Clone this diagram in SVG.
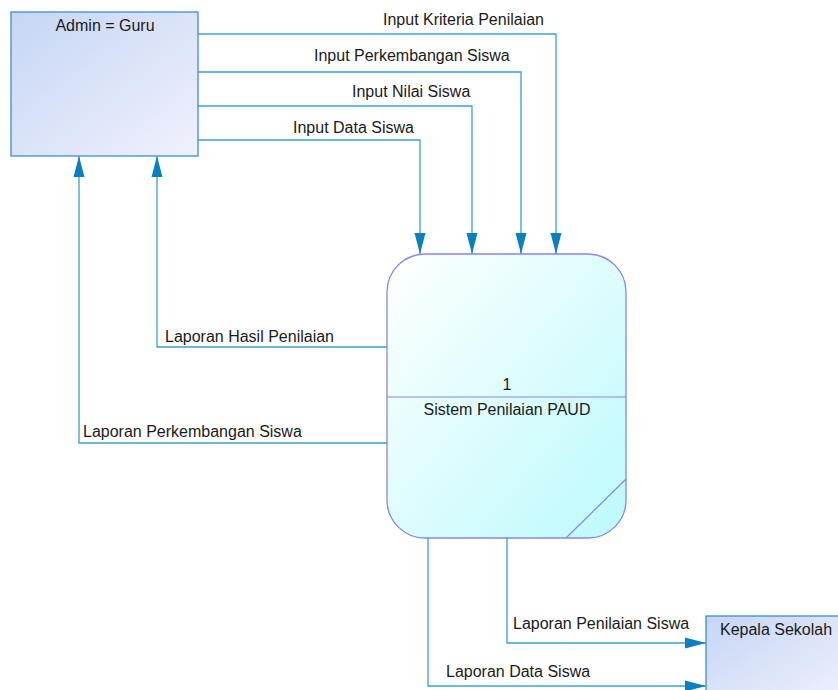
<svg xmlns="http://www.w3.org/2000/svg" width="838" height="690" viewBox="0 0 838 690">
<style>
text{font-family:"Liberation Sans",Arial,sans-serif;font-size:16px;fill:#1a1a1a}
.flow{fill:none;stroke:#3d9ed6;stroke-width:1.3}
.ent{stroke:#3b8fcc;stroke-width:1.3}
</style>
<defs>
<linearGradient id="gEnt" x1="0" y1="0" x2="1" y2="1">
<stop offset="0" stop-color="#c6d6f4"/>
<stop offset="1" stop-color="#f0f1fd"/>
</linearGradient>
<linearGradient id="gProc" x1="0" y1="0" x2="1" y2="1">
<stop offset="0" stop-color="#ffffff"/>
<stop offset="1" stop-color="#bcfafc"/>
</linearGradient>
<marker id="arr" markerUnits="userSpaceOnUse" markerWidth="22" markerHeight="12" refX="21" refY="5.5" orient="auto" viewBox="0 0 22 11">
<path d="M0,0 L21,5.5 L0,11 z" fill="#0a7fc2"/>
</marker>
</defs>
<g id="admin">
<rect class="ent" x="11" y="12" width="187" height="144" fill="url(#gEnt)"/>
<text x="105" y="31" text-anchor="middle">Admin = Guru</text>
</g>
<g id="kepala">
<rect class="ent" x="706" y="616" width="140" height="90" fill="url(#gEnt)"/>
<text x="720" y="635">Kepala Sekolah</text>
</g>
<g id="proses1">
<rect x="387" y="254" width="239" height="284" rx="38" ry="38" fill="url(#gProc)" stroke="#8585f5" stroke-width="1.3"/>
<line x1="387" y1="397" x2="626" y2="397" stroke="#8585f5" stroke-width="1.2"/>
<line x1="626" y1="479" x2="566" y2="538" stroke="#8585f5" stroke-width="1.2"/>
<text x="507" y="390" text-anchor="middle">1</text>
<text x="507" y="415" text-anchor="middle">Sistem Penilaian PAUD</text>
</g>
<g id="connectors">
<path class="flow" d="M198,34 H556 V254" marker-end="url(#arr)"/>
<path class="flow" d="M198,72 H521 V254" marker-end="url(#arr)"/>
<path class="flow" d="M198,106 H472 V254" marker-end="url(#arr)"/>
<path class="flow" d="M198,140 H420 V254" marker-end="url(#arr)"/>
<path class="flow" d="M387,347 H157 V156" marker-end="url(#arr)"/>
<path class="flow" d="M387,443 H79 V156" marker-end="url(#arr)"/>
<path class="flow" d="M507,538 V643 H706" marker-end="url(#arr)"/>
<path class="flow" d="M428,538 V686 H706" marker-end="url(#arr)"/>
<text x="383" y="25">Input Kriteria Penilaian</text>
<text x="314" y="61">Input Perkembangan Siswa</text>
<text x="352" y="97">Input Nilai Siswa</text>
<text x="293" y="133">Input Data Siswa</text>
<text x="165" y="342">Laporan Hasil Penilaian</text>
<text x="83" y="437">Laporan Perkembangan Siswa</text>
<text x="513" y="629">Laporan Penilaian Siswa</text>
<text x="446" y="677">Laporan Data Siswa</text>
</g>
</svg>
